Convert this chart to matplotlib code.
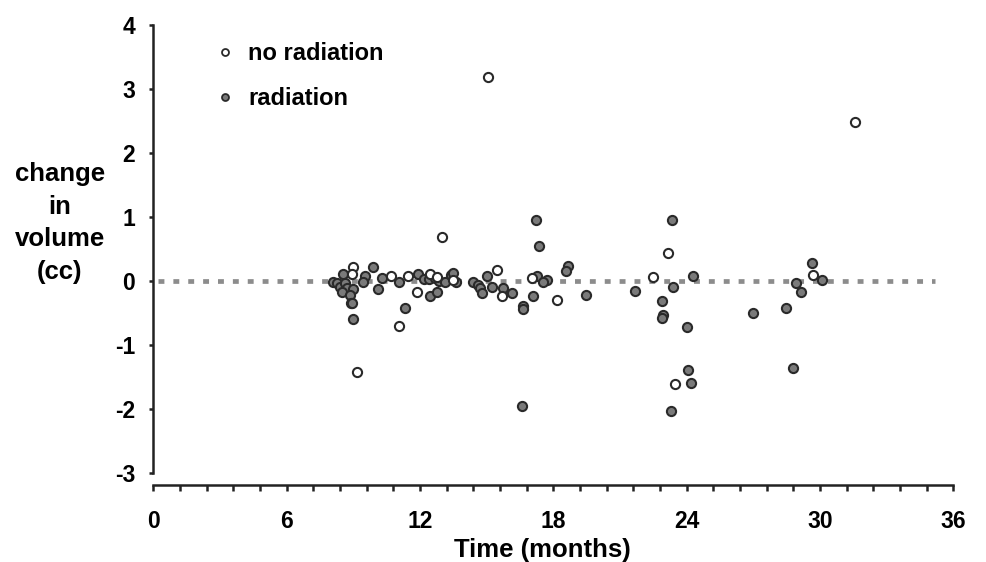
import numpy as np
import matplotlib
matplotlib.use("Agg")
import matplotlib.pyplot as plt
from matplotlib.ticker import MultipleLocator
from matplotlib.lines import Line2D

# no radiation (open circles): time in months, change in volume (cc)
no_rad_t = [9.0, 8.96, 10.7, 11.45, 12.45, 12.75, 13.5, 11.88, 11.06, 9.16,
            12.98, 15.08, 15.45, 15.68, 17.06, 18.15, 22.47, 23.15, 23.48,
            29.67, 31.6]
no_rad_v = [0.22, 0.11, 0.07, 0.07, 0.11, 0.06, 0.02, -0.18, -0.70, -1.42,
            0.68, 3.18, 0.17, -0.23, 0.05, -0.30, 0.06, 0.44, -1.61,
            0.09, 2.48]

# radiation (grey circles)
rad_t = [8.1, 8.52, 8.25, 8.4, 8.63, 8.7, 8.48, 9.0, 8.85, 8.9, 8.96, 9.0,
         9.53, 9.45, 9.9, 10.28, 10.13, 11.06, 11.33, 11.93, 12.2, 12.42,
         12.68, 12.87, 13.13, 13.38, 12.45, 12.75, 13.5, 13.62, 14.4, 14.63,
         14.7, 14.78, 15.0, 15.23, 15.75, 16.13, 16.62, 16.65, 16.58, 17.22,
         17.37, 17.25, 17.7, 17.55, 17.1, 18.68, 18.56, 19.46, 21.68, 22.88,
         22.95, 22.91, 23.34, 23.37, 24.3, 24.0, 24.08, 24.18, 23.3, 26.97,
         28.46, 28.8, 28.92, 29.17, 29.63, 30.08]
rad_v = [-0.02, 0.11, -0.04, -0.09, -0.04, -0.11, -0.17, -0.13, -0.22, -0.34,
         -0.34, -0.60, 0.07, -0.02, 0.21, 0.04, -0.13, -0.01, -0.42, 0.11,
         0.03, 0.03, 0.04, 0.0, -0.01, 0.09, -0.24, -0.18, 0.12, -0.02, -0.01,
         -0.06, -0.11, -0.19, 0.07, -0.09, -0.11, -0.19, -0.39, -0.44, -1.95,
         0.96, 0.54, 0.08, 0.02, -0.02, -0.23, 0.23, 0.15, -0.22, -0.16, -0.32,
         -0.53, -0.58, 0.96, -0.10, 0.07, -0.72, -1.40, -1.60, -2.04, -0.50,
         -0.43, -1.36, -0.04, -0.18, 0.28, 0.02]

zero_line_t = [0.2, 35.2]
zero_line_v = [0, 0]

x_ticks = [0, 6, 12, 18, 24, 30, 36]
y_ticks = [-3, -2, -1, 0, 1, 2, 3, 4]

plt.rcParams['font.family'] = ['Liberation Sans', 'DejaVu Sans']
plt.rcParams['font.weight'] = 'bold'
plt.rcParams['axes.unicode_minus'] = False

fig = plt.figure(figsize=(9.87, 5.62), dpi=100)
ax = fig.add_axes([0.1553, 0.137, 0.8105, 0.8185])

# dotted reference line at zero
ax.plot(zero_line_t, zero_line_v, color='#8c8c8c', lw=3.4,
        dashes=(1.25, 1.9), zorder=1)

ax.plot(rad_t, rad_v, 'o', ms=6.6, mfc='#7a7a7a', mec='#2a2a2a', mew=1.5,
        ls='none', zorder=3, label='radiation')
ax.plot(no_rad_t, no_rad_v, 'o', ms=6.6, mfc='white', mec='#2a2a2a', mew=1.5,
        ls='none', zorder=4, label='no radiation')

ax.set_xlim(0, 36)
ax.set_ylim(-3.19, 4)
ax.set_xticks(x_ticks)
ax.set_yticks(y_ticks)
ax.xaxis.set_minor_locator(MultipleLocator(1.2))
ax.spines['top'].set_visible(False)
ax.spines['right'].set_visible(False)
ax.spines['left'].set_bounds(-3, 4)
for s in ['left', 'bottom']:
    ax.spines[s].set_linewidth(1.8)
    ax.spines[s].set_color('#222222')
ax.tick_params(axis='x', which='both', direction='out', length=4, width=1.8,
               color='#222222', labelsize=16.5, pad=14)
ax.tick_params(axis='y', which='major', direction='out', length=3, width=1.8,
               color='#222222', labelsize=16.5, pad=10)

fig.text(542 / 987, 1 - 550 / 562, 'Time (months)', ha='center', va='center',
         fontsize=18.5, fontweight='bold')
fig.text(60 / 987, 1 - 223 / 562, 'change\nin\nvolume\n(cc)', ha='center',
         va='center', fontsize=18.5, fontweight='bold', linespacing=1.45)

handles = [Line2D([], [], marker='o', ls='none', ms=5, mfc='white',
                  mec='#2a2a2a', mew=1.3),
           Line2D([], [], marker='o', ls='none', ms=5, mfc='#7a7a7a',
                  mec='#2a2a2a', mew=1.3)]
ax.legend(handles, ['no radiation', 'radiation'], loc='upper left',
          bbox_to_anchor=(213 / 987, 1 - 42 / 562),
          bbox_transform=fig.transFigure, frameon=False, fontsize=17,
          handlelength=1.0, handletextpad=0.5, labelspacing=0.95,
          borderpad=0, borderaxespad=0)

fig.savefig('out.png', dpi=100)
